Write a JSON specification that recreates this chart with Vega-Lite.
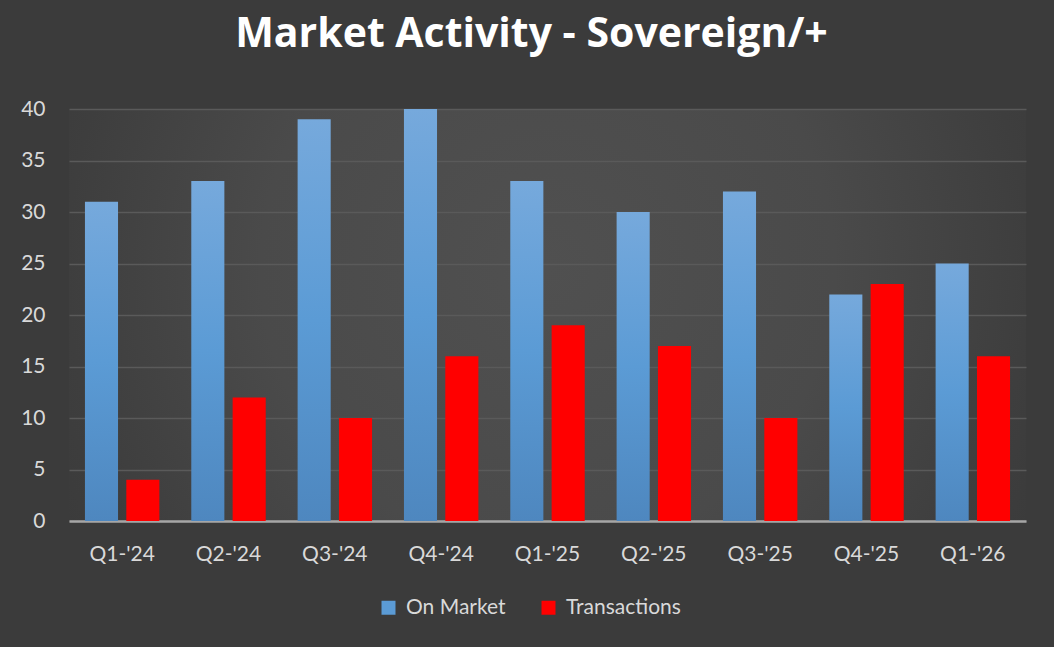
{
  "$schema": "https://vega.github.io/schema/vega-lite/v6.json",
  "width": 957,
  "height": 412,
  "autosize": "none",
  "padding": {"left": 69, "top": 109, "right": 28, "bottom": 126},
  "background": "#3b3b3b",
  "title": {
    "text": "Market Activity - Sovereign/+",
    "font": "Open Sans",
    "fontSize": 41,
    "fontWeight": "bold",
    "color": "#ffffff",
    "anchor": "middle",
    "dx": -16,
    "offset": 42
  },
  "data": {
    "values": [
      {"quarter": "Q1-'24", "series": "On Market", "value": 31},
      {"quarter": "Q1-'24", "series": "Transactions", "value": 4},
      {"quarter": "Q2-'24", "series": "On Market", "value": 33},
      {"quarter": "Q2-'24", "series": "Transactions", "value": 12},
      {"quarter": "Q3-'24", "series": "On Market", "value": 39},
      {"quarter": "Q3-'24", "series": "Transactions", "value": 10},
      {"quarter": "Q4-'24", "series": "On Market", "value": 40},
      {"quarter": "Q4-'24", "series": "Transactions", "value": 16},
      {"quarter": "Q1-'25", "series": "On Market", "value": 33},
      {"quarter": "Q1-'25", "series": "Transactions", "value": 19},
      {"quarter": "Q2-'25", "series": "On Market", "value": 30},
      {"quarter": "Q2-'25", "series": "Transactions", "value": 17},
      {"quarter": "Q3-'25", "series": "On Market", "value": 32},
      {"quarter": "Q3-'25", "series": "Transactions", "value": 10},
      {"quarter": "Q4-'25", "series": "On Market", "value": 22},
      {"quarter": "Q4-'25", "series": "Transactions", "value": 23},
      {"quarter": "Q1-'26", "series": "On Market", "value": 25},
      {"quarter": "Q1-'26", "series": "Transactions", "value": 16}
    ]
  },
  "mark": {"type": "bar", "cornerRadius": 0},
  "encoding": {
    "x": {
      "field": "quarter",
      "type": "nominal",
      "sort": null,
      "title": null,
      "scale": {"paddingInner": 0.3, "paddingOuter": 0.15},
      "axis": {
        "labelAngle": 0,
        "labelFont": "Lato",
        "labelFontSize": 21,
        "labelColor": "#d9d9d9",
        "labelPadding": 22,
        "ticks": false,
        "tickSize": 0,
        "domainColor": "#a6a6a6",
        "domainWidth": 2.6,
        "grid": false
      }
    },
    "xOffset": {
      "field": "series",
      "type": "nominal",
      "sort": ["On Market", "Transactions"],
      "scale": {"paddingInner": 0.2, "paddingOuter": 0}
    },
    "y": {
      "field": "value",
      "type": "quantitative",
      "title": null,
      "scale": {"domain": [0, 40], "nice": false},
      "axis": {
        "values": [0, 5, 10, 15, 20, 25, 30, 35, 40],
        "labelFont": "Lato",
        "labelFontSize": 21,
        "labelColor": "#d9d9d9",
        "labelPadding": 24,
        "ticks": false,
        "tickSize": 0,
        "domain": false,
        "gridColor": "#5a5a5a",
        "gridWidth": 1.5
      }
    },
    "color": {
      "field": "series",
      "type": "nominal",
      "scale": {"domain": ["On Market", "Transactions"], "range": ["#5b9bd5", "#ff0000"]},
      "condition": {
        "test": "datum.series === 'On Market'",
        "value": {
          "gradient": "linear",
          "x1": 0, "y1": 0, "x2": 0, "y2": 1,
          "stops": [
            {"offset": 0, "color": "#76a9dc"},
            {"offset": 0.5, "color": "#5b9bd5"},
            {"offset": 1, "color": "#4e87bf"}
          ]
        }
      },
      "legend": {
        "title": null,
        "orient": "none",
        "direction": "horizontal",
        "legendX": 309,
        "legendY": 488,
        "symbolType": "square",
        "symbolSize": 196,
        "symbolStrokeWidth": 0,
        "labelFont": "Lato",
        "labelFontSize": 21,
        "labelColor": "#d9d9d9",
        "labelOffset": 7,
        "columnPadding": 32
      }
    }
  },
  "config": {
    "view": {
      "stroke": null,
      "fill": {
        "gradient": "radial",
        "x1": 0.5, "y1": 0.45, "r1": 0,
        "x2": 0.5, "y2": 0.45, "r2": 0.75,
        "stops": [
          {"offset": 0, "color": "#505050"},
          {"offset": 0.4, "color": "#4a4a4a"},
          {"offset": 0.67, "color": "#3e3e3e"},
          {"offset": 1, "color": "#333333"}
        ]
      }
    }
  }
}
